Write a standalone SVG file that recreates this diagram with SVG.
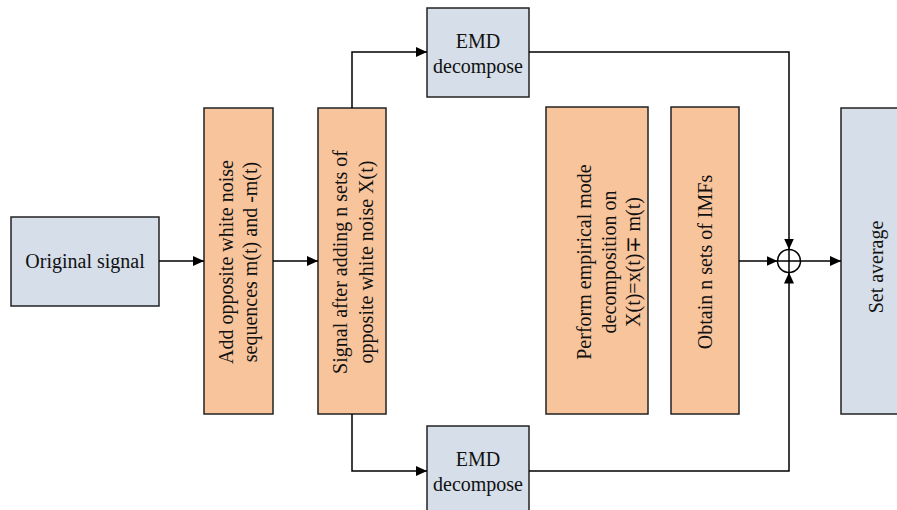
<svg xmlns="http://www.w3.org/2000/svg" width="897" height="510" viewBox="0 0 897 510">
<style>
.blue{fill:#D5DEE9;stroke:#222;stroke-width:1.5}
.orange{fill:#F8C49C;stroke:#222;stroke-width:1.5}
text{font-family:"Liberation Serif","Times New Roman",serif;font-size:20px;fill:#111;text-anchor:middle}
.conn{fill:none;stroke:#000;stroke-width:1.5}
</style>
<defs>
<marker id="arr" markerUnits="userSpaceOnUse" markerWidth="12" markerHeight="10" refX="11" refY="5" orient="auto">
<path d="M0,0 L11,5 L0,10 z" fill="#000"/>
</marker>
</defs>
<rect width="897" height="510" fill="#fff"/>
<g id="original">
<rect class="blue" x="11" y="217" width="148" height="89"/>
<text x="85" y="268">Original signal</text>
</g>
<g id="add-noise">
<rect class="orange" x="204" y="108" width="69" height="306"/>
<text transform="translate(232.5,262) rotate(-90)">Add opposite white noise</text>
<text transform="translate(256.5,262) rotate(-90)">sequences m(t) and -m(t)</text>
</g>
<g id="signal-after">
<rect class="orange" x="318" y="108" width="68" height="306"/>
<text transform="translate(346.5,262) rotate(-90)">Signal after adding n sets of</text>
<text transform="translate(372.5,262) rotate(-90)">opposite white noise X(t)</text>
</g>
<g id="emd-top">
<rect class="blue" x="427" y="8" width="102" height="89"/>
<text x="478" y="48">EMD</text>
<text x="478" y="72.5">decompose</text>
</g>
<g id="emd-bottom">
<rect class="blue" x="427" y="426" width="102" height="89"/>
<text x="478" y="466">EMD</text>
<text x="478" y="491">decompose</text>
</g>
<g id="perform">
<rect class="orange" x="546" y="107" width="102" height="307"/>
<text transform="translate(591,262) rotate(-90)">Perform empirical mode</text>
<text transform="translate(615.5,262) rotate(-90)">decomposition on</text>
<text transform="translate(640,262) rotate(-90)">X(t)=x(t)∓ m(t)</text>
</g>
<g id="obtain">
<rect class="orange" x="671" y="107" width="68" height="307"/>
<text transform="translate(711.5,262) rotate(-90)">Obtain n sets of IMFs</text>
</g>
<g id="sum">
<circle cx="789" cy="261" r="11.5" fill="#fff" stroke="#000" stroke-width="1.5"/>
<path d="M777.5,261 H800.5 M789,249.5 V272.5" stroke="#000" stroke-width="1.5"/>
</g>
<g id="set-average">
<rect class="blue" x="841" y="108" width="70" height="306"/>
<text transform="translate(883,267) rotate(-90)">Set average</text>
</g>
<g id="connectors">
<path class="conn" d="M159,261 H204" marker-end="url(#arr)"/>
<path class="conn" d="M273,261 H318" marker-end="url(#arr)"/>
<path class="conn" d="M352,108 V52 H427" marker-end="url(#arr)"/>
<path class="conn" d="M352,414 V471 H427" marker-end="url(#arr)"/>
<path class="conn" d="M529,52 H789 V249.5" marker-end="url(#arr)"/>
<path class="conn" d="M529,471 H789 V272.5" marker-end="url(#arr)"/>
<path class="conn" d="M739,261 H777.5" marker-end="url(#arr)"/>
<path class="conn" d="M800.5,261 H841" marker-end="url(#arr)"/>
</g>
</svg>
